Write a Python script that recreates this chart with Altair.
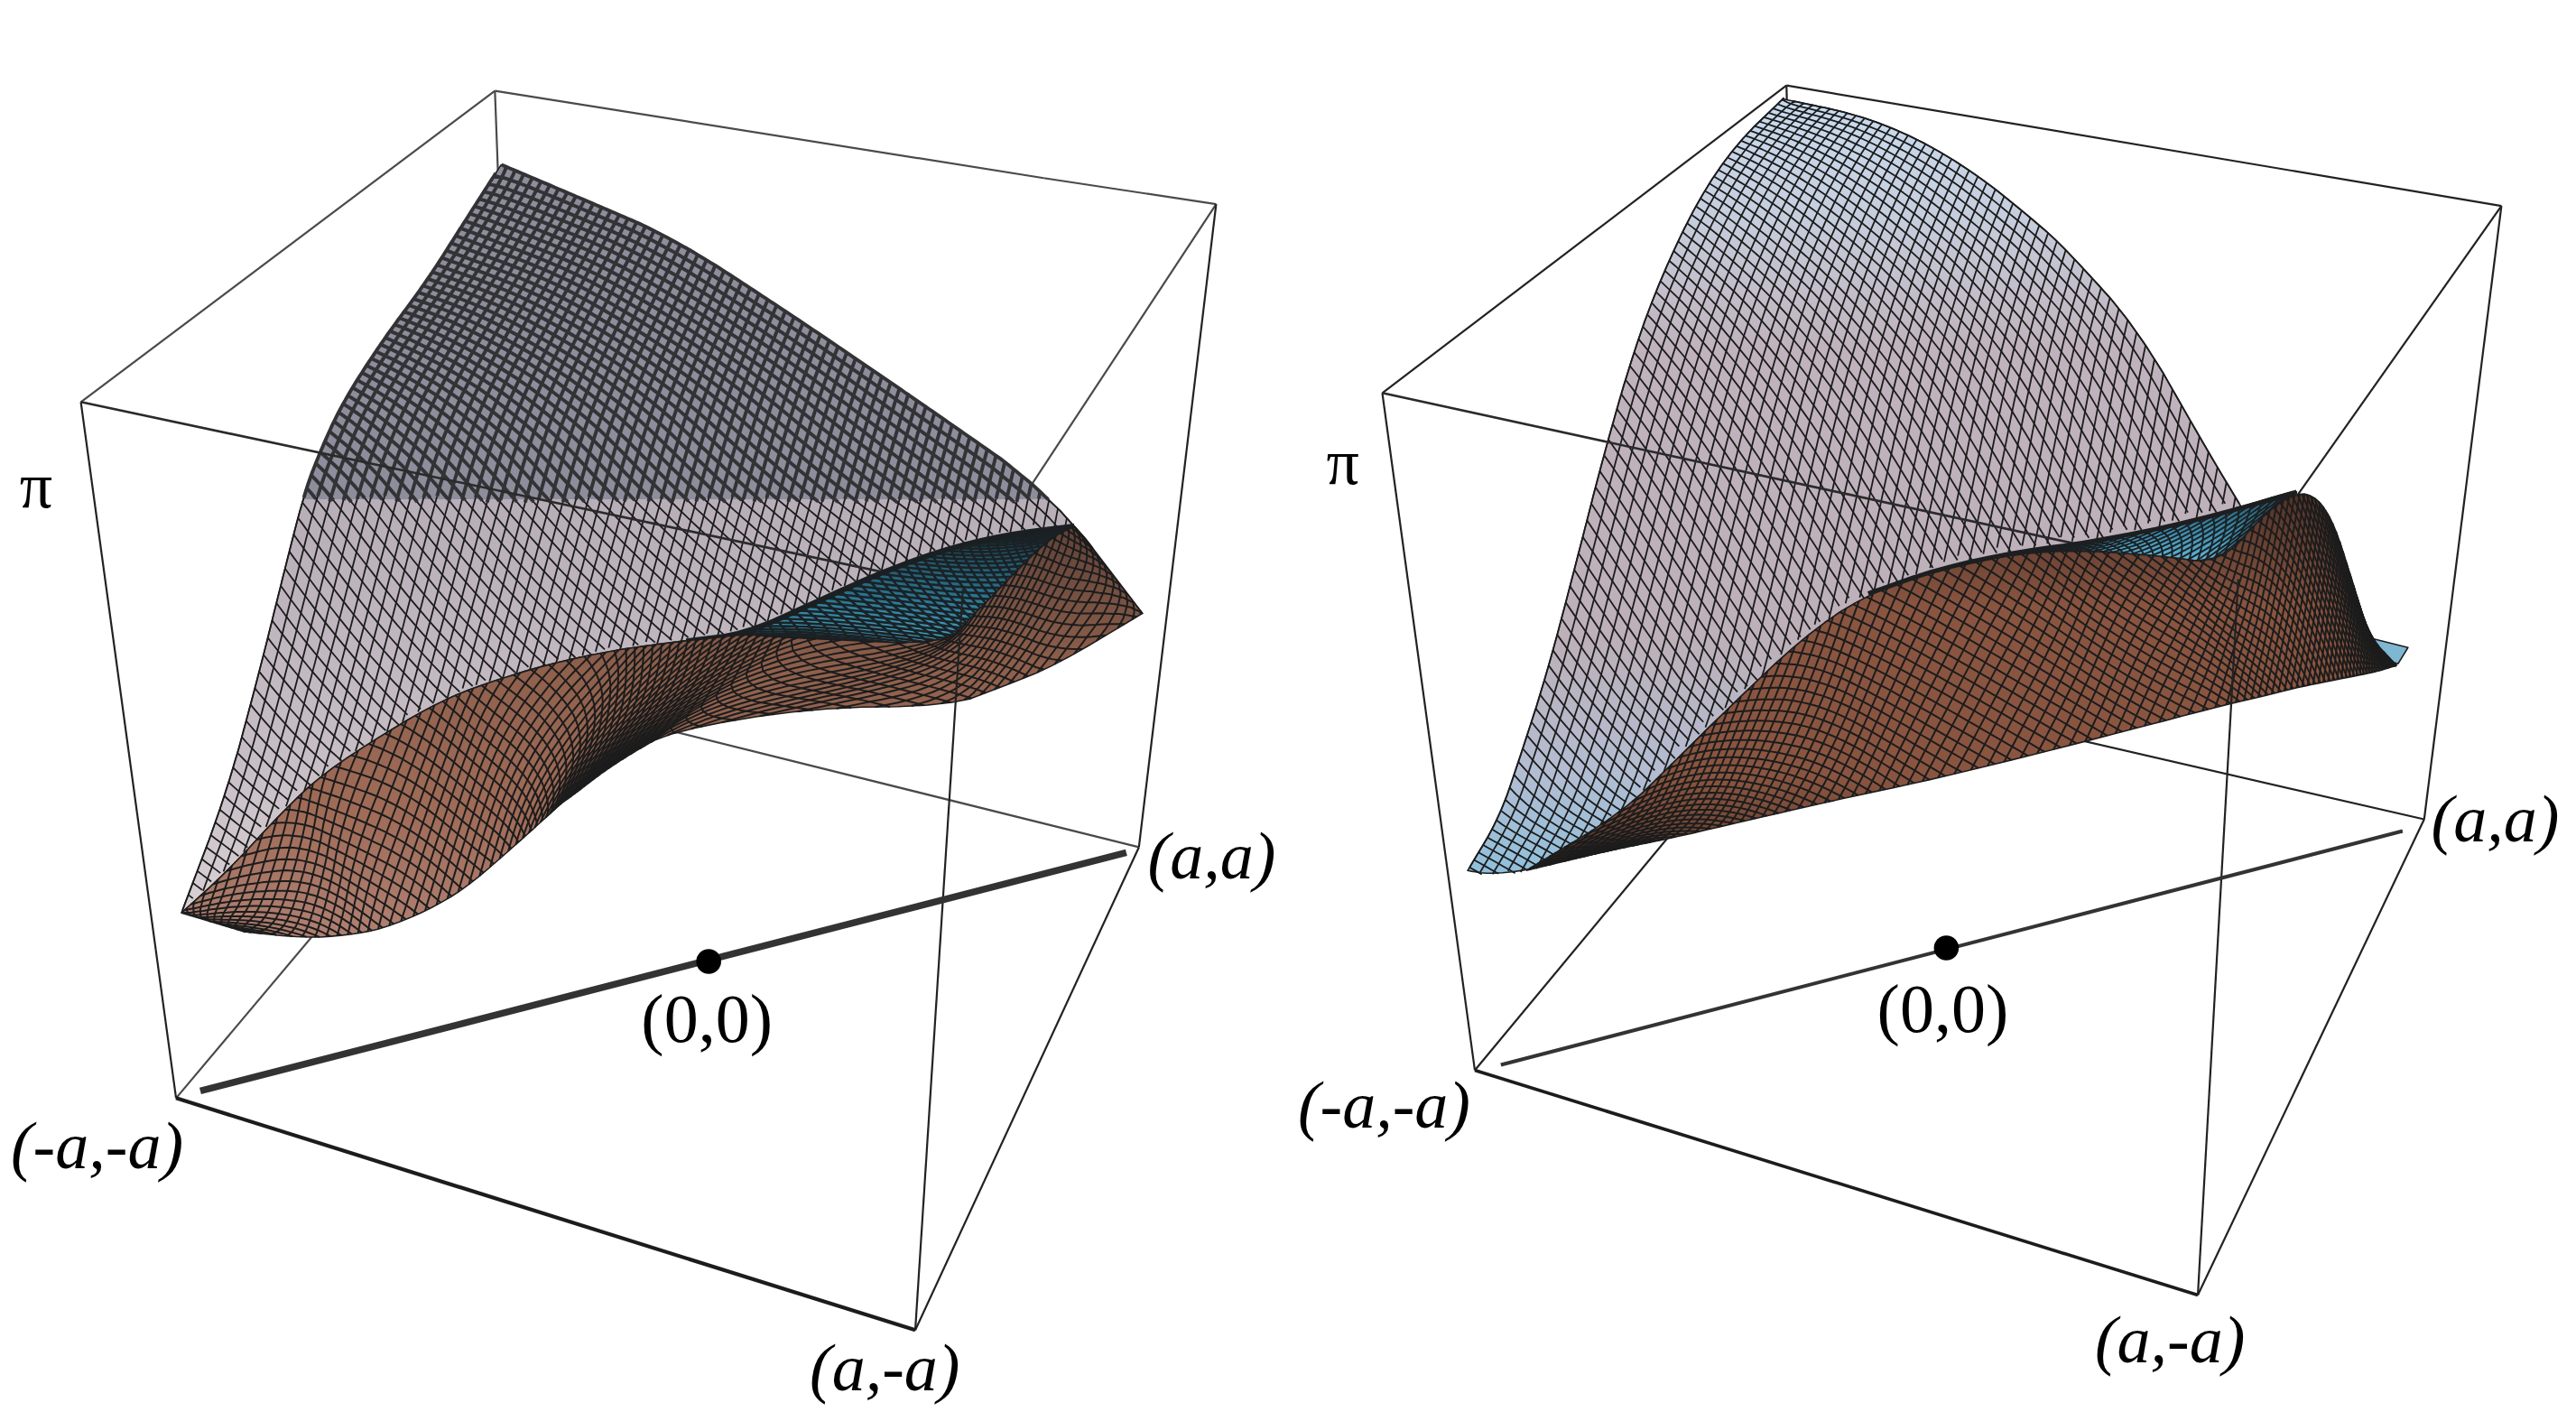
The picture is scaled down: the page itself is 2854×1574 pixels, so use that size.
import numpy as np
import pandas as pd
import altair as alt

alt.data_transformers.disable_max_rows()

# ---------- values (image pixels) ----------
# cube corners: TB top-back, BB bottom-back, BR (a,a), BL (-a,-a), BF (a,-a)
L_CUBE = dict(TB=(551,101), BB=(576,770), BR=(1268,942), BL=(196,1221), BF=(1019,1479))
R_CUBE = dict(TB=(1989,95), BB=(2006,752), BR=(2699,911), BL=(1642,1190), BF=(2447,1440))

L_BACK = [(551,101,90,447),(551,101,1162,198),(1162,198,1354,227),(551,101,576,770),
          (576,770,196,1221),(576,770,1268,942),(1072,655,1354,227)]
L_MID = [(90,447,1072,655)]
L_FRONT = [(90,447,196,1221),(1019,1479,1268,942),(1019,1479,1072,655),(1268,942,1354,227)]
L_THICK = [(196,1221,1019,1479)]
R_BACK = [(1989,95,1539,437),(1989,95,2785,229),(1989,95,2006,752),
          (2006,752,1642,1190),(2006,752,2699,911),(2492,644,2785,229)]
R_MID = [(1539,437,2492,644)]
R_FRONT = [(1539,437,1642,1190),(2447,1440,2699,911),(2447,1440,2492,644),(2699,911,2785,229)]
R_THICK = [(1642,1190,2447,1440)]
DIAGONALS = [(223,1213,1254,948,7.5),(1671,1184,2675,924,4)]
ORIGIN_X = [789,2167]
ORIGIN_Y = [1069,1054]

# left panel surface
L_AB = [(558,183),(650,222),(750,265),(878,348),(1025,448),(1171,550),(1272,682)]
L_AC = [(558,183),(517,247),(475,313),(425,380),(380,450),(353,510),(337,555),(317,633),(288,750),(252,883),(202,1015)]
L_LOWER = [(202,1015),(252,970),(317,900),(360,860),(432,813),(490,780),(540,760),(612,738),(684,723),(757,713),
           (829,705),(901,673),(973,640),(1045,613),(1117,595),(1196,585),(1272,682)]
L_BROWN_T = [(202,1015),(252,970),(317,900),(360,860),(432,813),(490,780),(540,760),(612,738),(684,723),(720,718),
             (757,713),(790,710),(829,705),(860,708),(901,710),(1052,717),(1081,687),(1124,643),(1167,600),(1196,585)]
L_BROWN_B = [(272,1036),(340,1043),(385,1040),(425,1033),(475,1013),(519,987),(562,950),(590,925),(612,905),(625,893),
             (638,884),(652,873),(672,858),(699,840),(746,813),(901,787),(1059,785),(1117,763),(1175,740),(1272,682)]
L_BLUE_U = [(764,713),(829,705),(901,673),(973,640),(1045,613),(1117,595),(1196,585)]
L_BLUE_L = [(764,713),(901,712),(1052,717),(1081,687),(1124,643),(1167,600),(1196,585)]

# right panel surface
R_AB = [(1985,110),(2067,127),(2133,153),(2200,193),(2267,247),(2300,277),(2380,365),(2457,500),(2495,563)]
R_AB_HIDDEN = [(2540,640),(2681,720)]
R_AC = [(1985,110),(1933,160),(1890,223),(1850,307),(1820,387),(1787,500),(1753,633),(1722,750),(1692,843),(1669,910),(1634,968)]
R_LOWER = [(1634,968),(1657,972),(1699,968),(1734,957),(1807,903),(1868,843),(1929,783),(2006,710),(2074,663),(2159,632),
           (2250,613),(2327,603),(2442,580),(2495,563)]
R_BROWN_T = [(1699,968),(1807,903),(1868,843),(1929,783),(2006,710),(2074,663),(2159,632),(2250,615),(2319,612),
             (2404,618),(2472,627),(2522,570),(2557,547),(2580,553),(2599,583),(2618,643),(2637,707),(2668,740)]
R_BROWN_B = [(1790,946),(1860,932),(1925,917),(1985,903),(2060,886),(2136,870),(2228,848),(2319,825),(2400,804),
             (2480,783),(2520,774),(2555,765),(2585,759),(2610,754),(2630,750),(2645,747),(2658,743),(2668,740)]
R_BLUE_U = [(2250,613),(2327,603),(2442,580),(2549,547),(2557,547)]
R_BLUE_L = [(2250,615),(2319,612),(2404,618),(2472,627),(2557,547)]
R_TIP = [(2641,710),(2681,720),(2670,738),(2652,733)]
R_RIDGE = [(2080,660),(2159,632),(2250,613),(2327,603),(2442,580),(2557,547)]

# labels: text, x, y, italic
LABELS = [("(0,0)",787,1135,False),("(0,0)",2163,1124,False),
          ("(a,a)",1349,955,True),("(-a,-a)",108,1277,True),("(a,-a)",985,1524,True),
          ("(a,a)",2778,913,True),("(-a,-a)",1541,1232,True),("(a,-a)",2416,1493,True),
          ("π",40,542,False),("π",1495,516,False)]

# ---------- geometry helpers ----------
def chaikin(p, n=2):
    p = np.asarray(p, float)
    for _ in range(n):
        a, b = p[:-1], p[1:]
        q = np.empty((2*len(a), 2))
        q[0::2], q[1::2] = .75*a+.25*b, .25*a+.75*b
        p = np.vstack([p[:1], q, p[-1:]])
    return p

def edge_profile(chain, origin, end, tilt):
    """Split a read edge into position along the cube floor and height above it."""
    origin, end = np.asarray(origin, float), np.asarray(end, float)
    d = end-origin
    M = np.array([[d[0], tilt],[d[1], -1.0]])
    sol = np.linalg.solve(M, (np.asarray(chain, float)-origin).T).T
    s, h = sol[:,0], sol[:,1]
    order = np.argsort(s)
    return s[order], h[order]

def profile_at(s, table):
    ts, th = table
    out = np.interp(s, ts, th)
    slope = (th[-1]-th[-4])/(ts[-1]-ts[-4]+1e-9)
    return np.where(s > ts[-1], th[-1]+slope*(s-ts[-1]), out)

def sheet_lines(cube, ab, ac, n, m=120):
    BB, BR, BL, BF, TB = [np.asarray(cube[k], float) for k in ("BB","BR","BL","BF","TB")]
    tilt = (TB[0]-BB[0])/(BB[1]-TB[1])
    pa, pc = edge_profile(ab, BB, BR, tilt), edge_profile(ac, BB, BL, tilt)
    def P(u, v):
        s = u+v
        w = np.where(s > 0, u/np.where(s > 0, s, 1), .5)
        h = w*profile_at(s, pa)+(1-w)*profile_at(s, pc)
        x = (1-u)*(1-v)*BB[0]+u*(1-v)*BR[0]+(1-u)*v*BL[0]+u*v*BF[0]+tilt*h
        y = (1-u)*(1-v)*BB[1]+u*(1-v)*BR[1]+(1-u)*v*BL[1]+u*v*BF[1]-h
        return np.c_[x, y]
    t = np.linspace(0, 1, m)
    lines = []
    for c in np.linspace(0, 1, n+1):
        lines.append(P(np.full(m, c), t))
        lines.append(P(t, np.full(m, c)))
    return lines

def inside(poly, pts):
    poly = np.asarray(poly, float)
    x, y = pts[:,0], pts[:,1]
    res = np.zeros(len(pts), bool)
    for (x0,y0),(x1,y1) in zip(poly, np.roll(poly,-1,axis=0)):
        cond = (y0 > y) != (y1 > y)
        res ^= cond & (x < (x1-x0)*(y-y0)/(y1-y0+1e-12)+x0)
    return res

def runs(line, mask):
    idx = np.flatnonzero(mask)
    if len(idx) < 2:
        return []
    return [line[g] for g in np.split(idx, np.flatnonzero(np.diff(idx) > 1)+1) if len(g) > 1]

def rib_lines(T, B, n, k, m=40):
    T, B = np.asarray(T,float), np.asarray(B,float)
    L = len(T)
    v = np.linspace(0,1,m)
    ar = np.arange(L)
    out = []
    for sign in (1,-1):
        for c in np.linspace(-k, 1+k, n):
            u = c + sign*k*(v-.5)
            ok = (u >= 0) & (u <= 1)
            pos = u*(L-1)
            pts = np.c_[(1-v)*np.interp(pos,ar,T[:,0])+v*np.interp(pos,ar,B[:,0]),
                        (1-v)*np.interp(pos,ar,T[:,1])+v*np.interp(pos,ar,B[:,1])]
            out += runs(pts, ok)
    return out

def lines_df(lines):
    rows = []
    for g, l in enumerate(lines):
        for i, (x, y) in enumerate(l):
            rows.append((round(float(x),1), round(float(y),1), g, i))
    return pd.DataFrame(rows, columns=["x","y","g","i"])

X = alt.X("x:Q", scale=alt.Scale(domain=[8,2860]), axis=None)
Y = alt.Y("y:Q", scale=alt.Scale(domain=[1572,8]), axis=None)

def grad(stops):
    return alt.Gradient(gradient="linear", x1=0, x2=0, y1=0, y2=1,
                        stops=[alt.GradientStop(offset=o, color=c) for o, c in stops])

def poly(points, fill, sw=1.6):
    p = np.vstack([points, points[:1]])
    df = pd.DataFrame({"x":p[:,0].round(1), "y":p[:,1].round(1), "i":range(len(p))})
    return alt.Chart(df).mark_line(fill=fill, stroke="#1e1e1e", strokeWidth=sw, strokeJoin="round").encode(x=X, y=Y, order="i:Q")

def mesh(lines, sw=1.7, color="#1c1c1c"):
    return alt.Chart(lines_df(lines)).mark_line(stroke=color, strokeWidth=sw, strokeJoin="round").encode(
        x=X, y=Y, detail="g:N", order="i:Q")

def rules(edges, sw, color="#222222"):
    df = pd.DataFrame(edges, columns=["x","y","x2","y2"])
    return alt.Chart(df).mark_rule(stroke=color, strokeWidth=sw).encode(x=X, y=Y, x2="x2:Q", y2="y2:Q")

def clip(lines, polygon, keep=None):
    c = polygon.mean(axis=0)
    grown = c+(polygon-c)*1.006
    out = []
    for l in lines:
        mask = inside(grown, l)
        if keep is not None:
            mask &= keep(l)
        out += runs(l, mask)
    return out

# ---------- surfaces ----------
lab_, lac_ = chaikin(L_AB), chaikin(L_AC)
rab_, rac_ = chaikin(R_AB), chaikin(R_AC)
lg_poly = np.vstack([lab_, chaikin(L_LOWER)[::-1], lac_[::-1]])
rg_poly = np.vstack([rab_, chaikin(R_LOWER)[::-1], rac_[::-1]])
lg_lines = sheet_lines(L_CUBE, lab_, lac_, 72, 160)
rg_lines = sheet_lines(R_CUBE, np.vstack([rab_, R_AB_HIDDEN]), rac_, 72)

lb_T, lb_B = chaikin(L_BROWN_T), chaikin(L_BROWN_B)
rb_T, rb_B = chaikin(R_BROWN_T), chaikin(R_BROWN_B)
lu_U, lu_L = chaikin(L_BLUE_U), chaikin(L_BLUE_L)
ru_U, ru_L = chaikin(R_BLUE_U), chaikin(R_BLUE_L)

cut = 555
left = [
    rules(L_BACK, 2.2, "#4a4a4a"),
    poly(lg_poly, grad([(0,"#8d8d9c"),(.447,"#8d8d9c"),(.447,"#b8aeb8"),(.8,"#c8bec6"),(1,"#d8d0d3")])),
    mesh(clip(lg_lines, lg_poly, lambda l: l[:,1] >= cut-10), 1.8),
    mesh(clip(lg_lines, lg_poly, lambda l: l[:,1] < cut+4), 3.9, "#333336"),
    rules(L_MID, 2.6, "#2a2a2a"),
    poly(np.vstack([lu_U, lu_L[::-1]]), grad([(0,"#1f3a44"),(.6,"#2a7490"),(1,"#46a6c4")])),
    mesh(rib_lines(lu_U, lu_L, 60, .12, 24), 2.6, "#1a2226"),
    mesh([lu_U], 6, "#1a1f22"),
    poly(np.vstack([lb_T, lb_B[::-1]]), grad([(0,"#5f4238"),(.35,"#8f604c"),(.7,"#a06c58"),(1,"#b08072")])),
    mesh(rib_lines(lb_T, lb_B, 92, .13), 2.0),
    rules(L_FRONT, 2.2),
    rules(L_THICK, 4.2, "#1c1c1c"),
]
right = [
    rules(R_BACK, 2.2),
    poly(rg_poly, grad([(0,"#c8dcf0"),(.15,"#c6cedd"),(.32,"#c0b3bd"),(.7,"#bdb0b9"),(.87,"#b3bdd2"),(1,"#8fc0dc")])),
    mesh(clip(rg_lines, rg_poly), 1.8),
    rules(R_MID, 2.6, "#2a2a2a"),
    poly(np.array(R_TIP, float), "#7fb6d2"),
    poly(np.vstack([ru_U, ru_L[::-1]]), grad([(0,"#28505f"),(.6,"#3f8eae"),(1,"#63b6d6")])),
    mesh(rib_lines(ru_U, ru_L, 44, .12, 24), 2.0, "#1a2226"),
    poly(np.vstack([rb_T, rb_B[::-1]]), grad([(0,"#4f3228"),(.3,"#8a5540"),(.75,"#8a5540"),(1,"#5f3d30")])),
    mesh(rib_lines(rb_T, rb_B, 112, .13), 2.0),
    mesh([chaikin(R_RIDGE)], 5, "#1c1e20"),
    rules(R_FRONT, 2.2),
    rules(R_THICK, 3.6, "#1c1c1c"),
]

# diagonal line and origin dot
diag_layers = []
for x1, y1, x2, y2, sw in DIAGONALS:
    d = pd.DataFrame({"x":[x1], "y":[y1], "x2":[x2], "y2":[y2]})
    diag_layers.append(alt.Chart(d).mark_rule(stroke="#333333", strokeWidth=sw).encode(x=X, y=Y, x2="x2:Q", y2="y2:Q"))
dots = alt.Chart(pd.DataFrame({"x":ORIGIN_X, "y":ORIGIN_Y})).mark_point(
    filled=True, color="#000000", size=760, opacity=1).encode(x=X, y=Y)

lab = pd.DataFrame(LABELS, columns=["text","x","y","italic"])
def text_layer(sub, style, size):
    return alt.Chart(sub).mark_text(font="Liberation Serif", fontSize=size, fontStyle=style,
                                    color="#000000", align="center", baseline="middle").encode(x=X, y=Y, text="text:N")
texts = [
    text_layer(lab[lab.italic], "italic", 74),
    text_layer(lab[(~lab.italic) & (lab.text != "π")], "normal", 76),
    text_layer(lab[lab.text == "π"], "normal", 72),
]

chart = alt.layer(*left, *right, *diag_layers, dots, *texts).properties(
    width=2838, height=1558, padding=0, autosize="none", background="#ffffff"
).configure_view(stroke=None)

chart.save("out.html", embed_options={"renderer": "svg", "actions": False})
